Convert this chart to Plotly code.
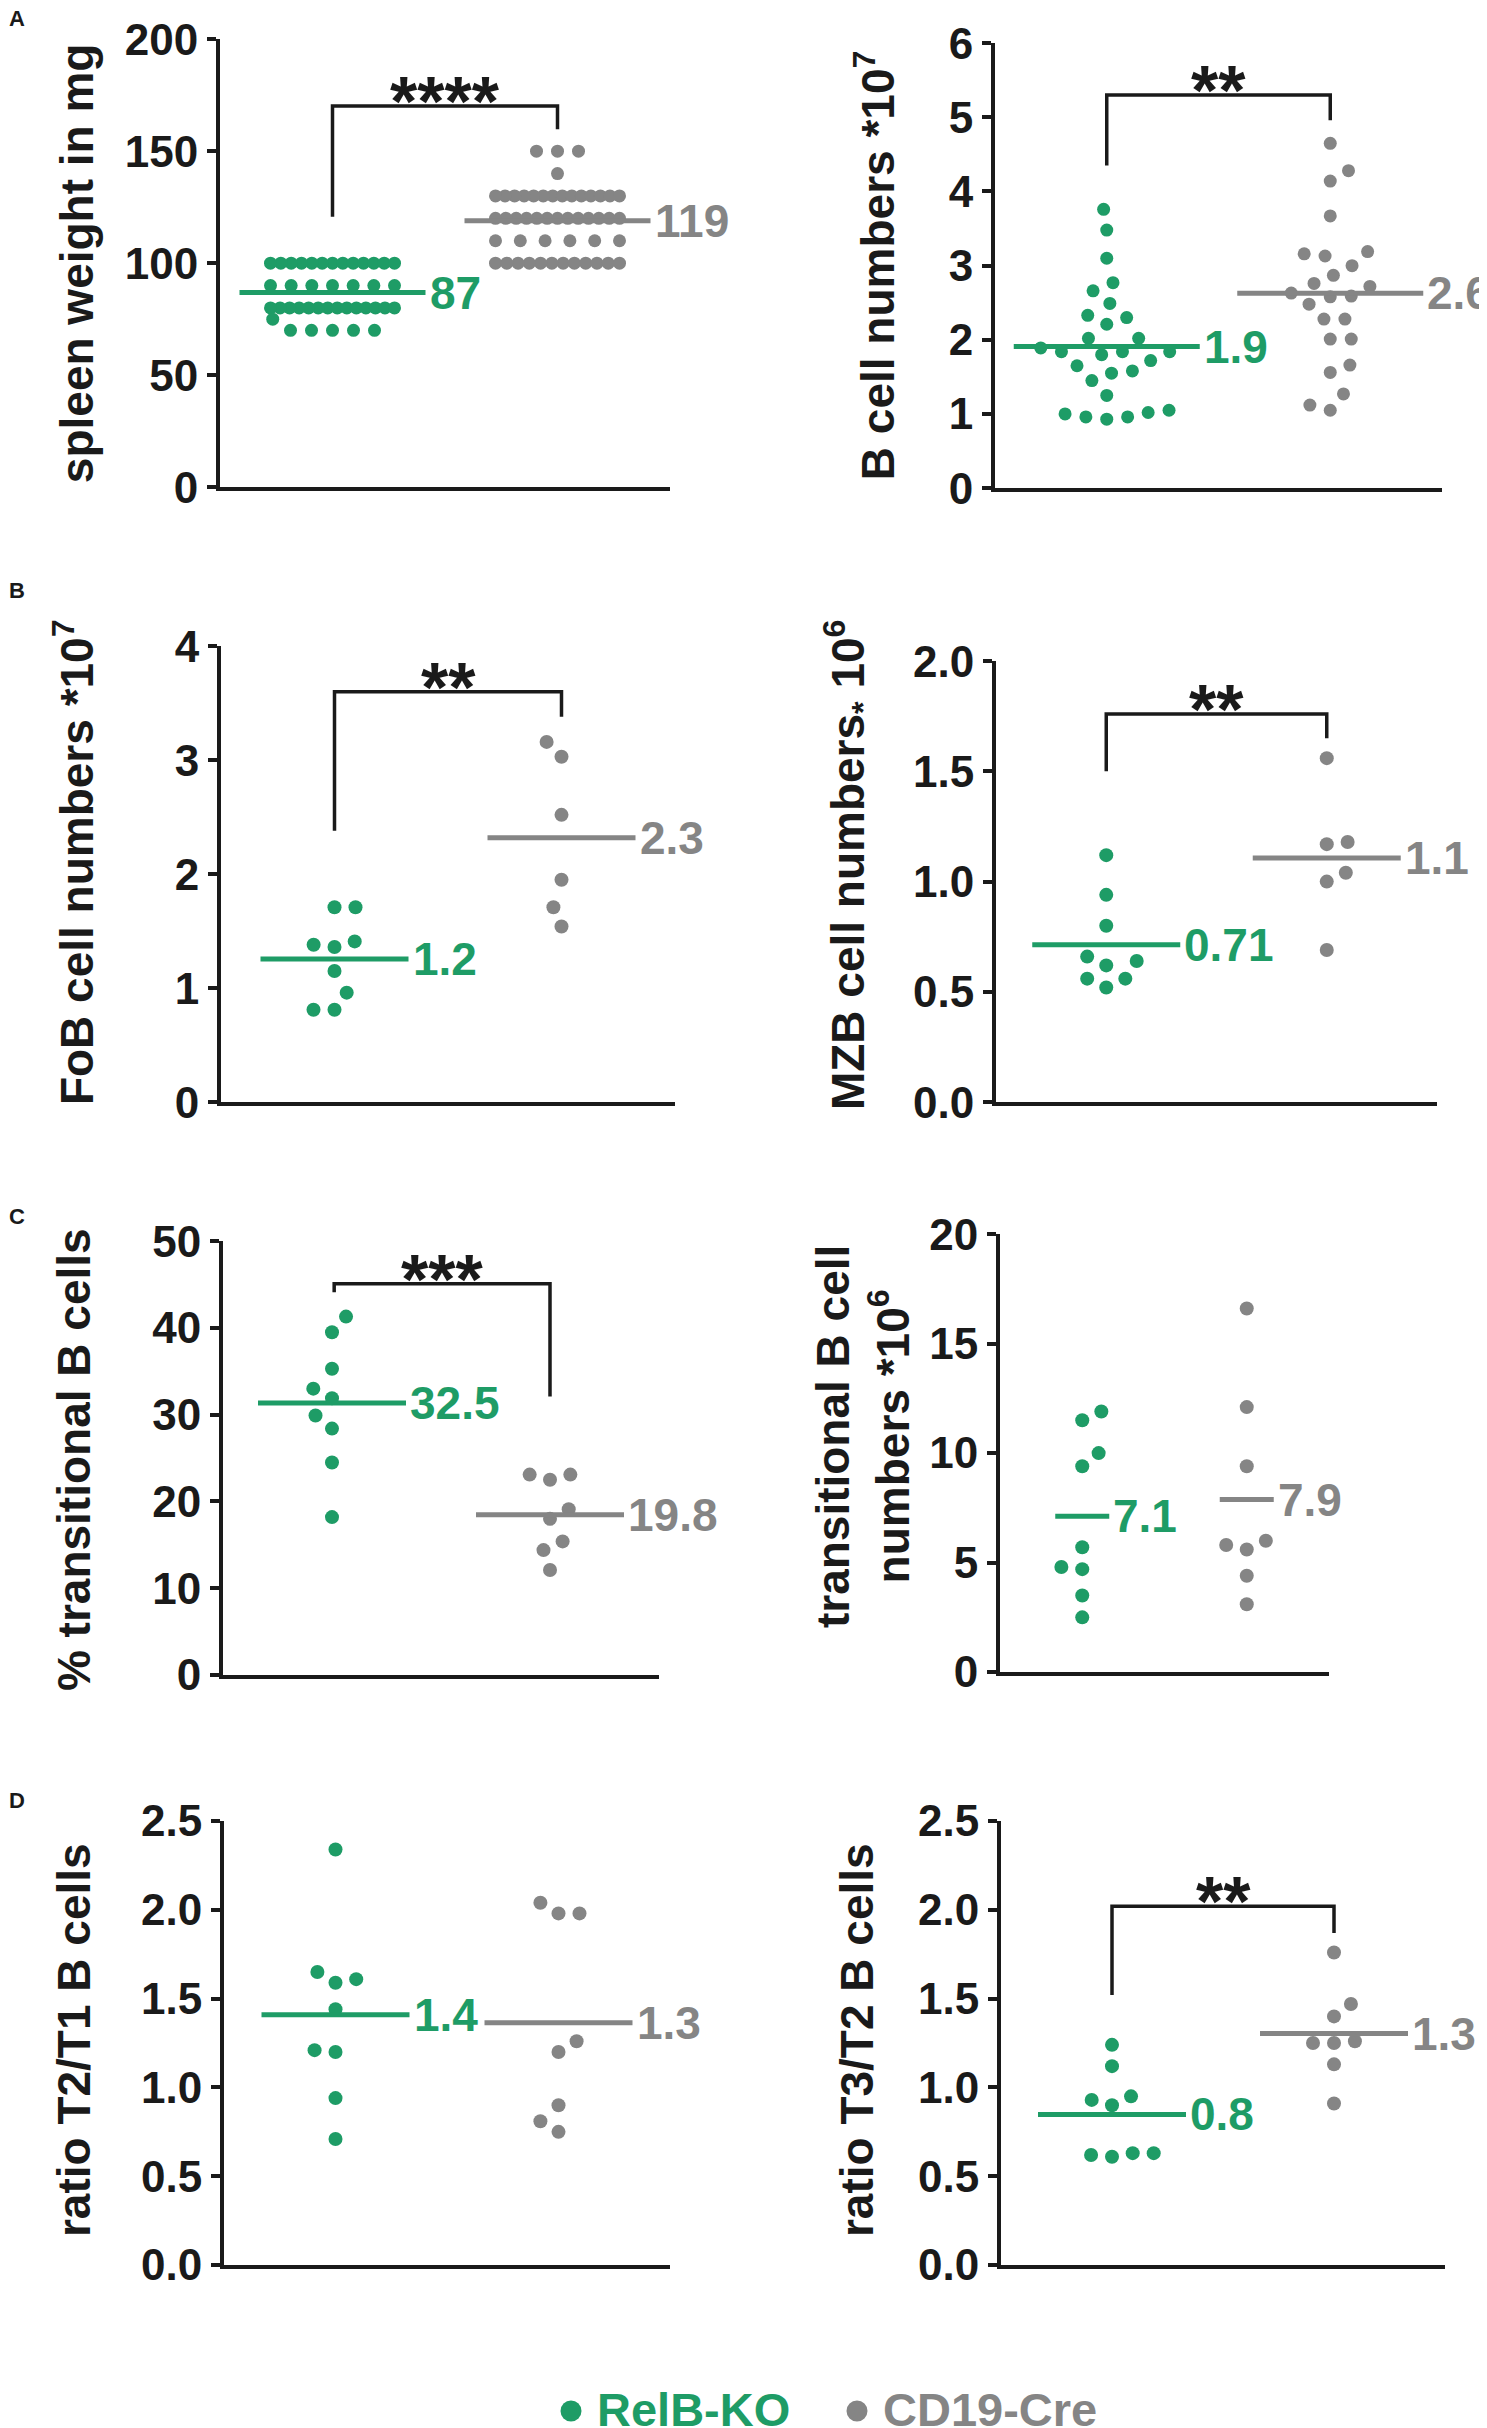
import numpy as np
import plotly.graph_objects as go

W, H = 1487, 2428
OFF = 8  # default body margin of the html page
# the photographed page came out slightly squeezed vertically (y' ~ 0.98*y + 25),
# so vertical positions are pre-corrected with this
SQ, SHIFT = 0.98, 25
FW = W - OFF
FH = round((H - SHIFT) / SQ) - OFF
GREEN = "#1e9c66"
GRAY = "#858585"
INK = "#1a1a1a"
FONT = "Liberation Sans"

# ---- data (RelB-KO vs CD19-Cre) ----
spleen_weight_ko = [100] * 13 + [90] * 7 + [80] * 14 + [75] + [70] * 5
spleen_weight_cre = [150] * 3 + [140] + [130] * 14 + [120] * 13 + [110] * 6 + [100] * 12

b_cells_ko = [3.76, 3.48, 3.10, 2.77, 2.66, 2.49, 2.33, 2.30, 2.21, 2.02, 2.02, 1.89, 1.80, 1.84,
              1.84, 1.84, 1.72, 1.65, 1.55, 1.58, 1.45, 1.25, 1.02, 0.96, 0.93, 0.96, 1.00, 1.05]
b_cells_cre = [4.65, 4.28, 4.14, 3.67, 3.19, 3.13, 3.16, 3.00, 2.87, 2.76, 2.72, 2.63, 2.58, 2.59,
               2.48, 2.28, 2.28, 2.01, 2.01, 1.66, 1.56, 1.27, 1.12, 1.05]

fob_ko = [1.71, 1.71, 1.41, 1.36, 1.38, 1.15, 0.96, 0.81, 0.81]
fob_cre = [3.16, 3.03, 2.52, 1.95, 1.71, 1.54]

mzb_ko = [1.12, 0.94, 0.80, 0.66, 0.64, 0.62, 0.56, 0.56, 0.52]
mzb_cre = [1.56, 1.18, 1.17, 1.04, 1.00, 0.69]

trans_pct_ko = [41.3, 39.5, 35.3, 33.0, 31.9, 29.9, 28.4, 24.5, 18.2]
trans_pct_cre = [23.1, 23.1, 22.5, 19.1, 18.0, 15.4, 14.4, 12.1]

trans_num_ko = [11.9, 11.5, 10.0, 9.4, 5.7, 4.7, 4.8, 3.5, 2.5]
trans_num_cre = [16.6, 12.1, 9.4, 6.0, 5.8, 5.6, 4.4, 3.1]

t2t1_ko = [2.34, 1.65, 1.61, 1.59, 1.44, 1.20, 1.21, 0.94, 0.71]
t2t1_cre = [2.04, 1.98, 1.98, 1.26, 1.20, 0.90, 0.81, 0.75]

t3t2_ko = [1.24, 1.12, 0.93, 0.95, 0.90, 0.63, 0.61, 0.62, 0.63]
t3t2_cre = [1.76, 1.47, 1.40, 1.26, 1.25, 1.25, 1.13, 0.91]

mean_labels_ko = ["87", "1.9", "1.2", "0.71", "32.5", "7.1", "1.4", "0.8"]
mean_labels_cre = ["119", "2.6", "2.3", "1.1", "19.8", "7.9", "1.3", "1.3"]

y_titles = [
    "spleen weight in mg",
    "B cell numbers *10<sup>7</sup>",
    "FoB cell numbers *10<sup>7</sup>",
    "MZB cell numbers<sub>*</sub> 10<sup>6</sup>",
    "% transitional B cells",
    "transitional B cell<br>numbers *10<sup>6</sup>",
    "ratio T2/T1 B cells",
    "ratio T3/T2 B cells",
]
y_max = [200, 6, 4, 2.0, 50, 20, 2.5, 2.5]
y_step = [50, 1, 1, 0.5, 10, 5, 0.5, 0.5]
stars = ["****", "**", "**", "**", "***", None, None, "**"]
panel_letters = ["A", "B", "C", "D"]
group_names = ["RelB-KO", "CD19-Cre"]

groups_ko = [spleen_weight_ko, b_cells_ko, fob_ko, mzb_ko, trans_pct_ko, trans_num_ko, t2t1_ko, t3t2_ko]
groups_cre = [spleen_weight_cre, b_cells_cre, fob_cre, mzb_cre, trans_pct_cre, trans_num_cre, t2t1_cre, t3t2_cre]

# ---- layout, in target pixels (plot area: left, top, right, bottom) ----
boxes = [(220, 39, 670, 487), (995, 43, 1442, 488),
         (221, 646, 675, 1102), (996, 661, 1437, 1102),
         (223, 1241, 659, 1675), (1000, 1234, 1329, 1672),
         (224, 1821, 670, 2265), (1001, 1821, 1445, 2265)]
title_pos = [(77, 263), (875, 265), (74, 862), (848, 865),
             (74, 1460), (863, 1437), (74, 2040), (857, 2040)]
mean_halfwidth = [93, 93, 74, 74, 74, 27, 74, 74]
dot_size = [13, 13, 14, 14, 14, 14, 14, 14]
max_half = [62, None, None, None, None, None, None, None]
# bracket: (left foot, top, right foot, left x) in data units
brackets = [(120.7, 170.2, 159.8, 0.5), (4.35, 5.30, 4.96, 0.5), (2.38, 3.60, 3.38, 0.5),
            (1.50, 1.76, 1.65, 0.5), (44.1, 45.1, 32.1, 0.51), None, None,
            (1.52, 2.02, 1.87, 0.5)]
letter_y = [18, 590, 1216, 1800]
legend_dot_x = [571, 857]
legend_y = 2409


def px(x):
    return (x - OFF) / FW


def py(y):
    page_y = (y - SHIFT) / SQ
    return 1 - (page_y - OFF) / FH


def swarm_offsets(vals, ypx, d=21.0, maxhalf=None):
    """pixel x offsets so that dots do not overlap (beeswarm)"""
    v = np.asarray(vals, float)
    y = v * ypx
    xs = np.zeros(len(v))
    placed = []
    for k, i in enumerate(np.argsort(v, kind="stable")):
        cands = [0.0]
        for qx, qy in placed:
            dy = abs(qy - y[i])
            if dy < d:
                dx = np.sqrt(d * d - dy * dy)
                cands += [qx + dx, qx - dx]
        ok = [c for c in cands
              if all((c - qx) ** 2 + (y[i] - qy) ** 2 >= d * d - 1e-3 for qx, qy in placed)]
        sign = 1 if k % 2 else -1
        best = min(ok, key=lambda c: (round(abs(c), 3), sign * c))
        xs[i] = best
        placed.append((best, y[i]))
    if maxhalf:
        # squeeze long rows of identical values, as Prism packs them
        for val in np.unique(v):
            idx = np.where(v == val)[0]
            if len(idx) > 1 and np.abs(xs[idx]).max() > maxhalf:
                xs[idx[np.argsort(xs[idx])]] = np.linspace(-maxhalf, maxhalf, len(idx))
    return xs


fig = go.Figure()
bold = dict(family=FONT, weight="bold")

for i in range(8):
    n = "" if i == 0 else str(i + 1)
    xa, ya = "x" + n, "y" + n
    l, t, r, b = boxes[i]
    xpx = (r - l) / 2
    ypx = (b - t) / y_max[i]
    hw = mean_halfwidth[i] / xpx

    for c, vals, col, lab in ((0.5, groups_ko[i], GREEN, mean_labels_ko[i]),
                              (1.5, groups_cre[i], GRAY, mean_labels_cre[i])):
        off = swarm_offsets(vals, ypx, maxhalf=max_half[i])
        fig.add_trace(go.Scatter(
            x=c + off / xpx, y=vals, mode="markers",
            marker=dict(size=dot_size[i], color=col, line=dict(width=0)),
            xaxis=xa, yaxis=ya, showlegend=False, cliponaxis=False, hoverinfo="y"))
        m = float(np.mean(vals))
        fig.add_trace(go.Scatter(
            x=[c - hw, c + hw], y=[m, m], mode="lines",
            line=dict(color=col, width=5), xaxis=xa, yaxis=ya,
            showlegend=False, cliponaxis=False, hoverinfo="skip"))
        fig.add_annotation(x=c + hw, y=m, xref=xa, yref=ya, text=lab, showarrow=False,
                           xanchor="left", yanchor="middle", xshift=2,
                           font=dict(size=46, color=col, **bold))

    if brackets[i]:
        lb, top, rb, x0 = brackets[i]
        fig.add_shape(type="path", xref=xa, yref=ya,
                      path=f"M {x0} {lb} L {x0} {top} L 1.5 {top} L 1.5 {rb}",
                      line=dict(color=INK, width=3.5))
        fig.add_annotation(x=(x0 + 1.5) / 2, y=top, xref=xa, yref=ya, text=stars[i],
                           showarrow=False, xanchor="center", yanchor="middle", yshift=4,
                           font=dict(size=70, color=INK, **bold))

    tx, ty = title_pos[i]
    fig.add_annotation(x=px(tx), y=py(ty), xref="paper", yref="paper", text=y_titles[i],
                       textangle=-90, showarrow=False, xanchor="center", yanchor="middle",
                       font=dict(size=46, color=INK, **bold))

    fig.layout["xaxis" + n] = dict(
        domain=[px(l), px(r)], range=[0, 2], anchor=ya, showline=True, linecolor=INK,
        linewidth=4, showticklabels=False, ticks="", showgrid=False, zeroline=False)
    fig.layout["yaxis" + n] = dict(
        domain=[py(b), py(t)], range=[0, y_max[i]], anchor=xa, showline=True,
        linecolor=INK, linewidth=4, ticks="outside", ticklen=9, tickwidth=4, tickcolor=INK,
        tickvals=list(np.arange(0, y_max[i] + 1e-9, y_step[i])),
        tickformat=".1f" if y_step[i] < 1 else "d",
        tickfont=dict(size=44, color=INK, **bold), showgrid=False, zeroline=False)

for k, letter in enumerate(panel_letters):
    fig.add_annotation(x=px(17), y=py(letter_y[k]), xref="paper", yref="paper", text=letter,
                       showarrow=False, xanchor="center", yanchor="middle",
                       font=dict(size=22, color=INK, **bold))

# legend at the bottom: dot + coloured name
for name, col, dx in zip(group_names, (GREEN, GRAY), legend_dot_x):
    fig.add_shape(type="circle", xref="paper", yref="paper", xsizemode="pixel",
                  ysizemode="pixel", xanchor=px(dx), yanchor=py(legend_y + 2),
                  x0=-10.5, x1=10.5, y0=-10.5, y1=10.5,
                  fillcolor=col, line=dict(width=0))
    fig.add_annotation(x=px(dx + 24), y=py(legend_y), xref="paper", yref="paper", text=name,
                       showarrow=False, xanchor="left", yanchor="middle",
                       font=dict(size=47, color=col, **bold))

fig.update_layout(
    width=FW, height=FH, margin=dict(l=0, r=0, t=0, b=0),
    plot_bgcolor="white", paper_bgcolor="white",
    font=dict(family=FONT, color=INK), showlegend=False,
)

fig.write_html("out.html")
